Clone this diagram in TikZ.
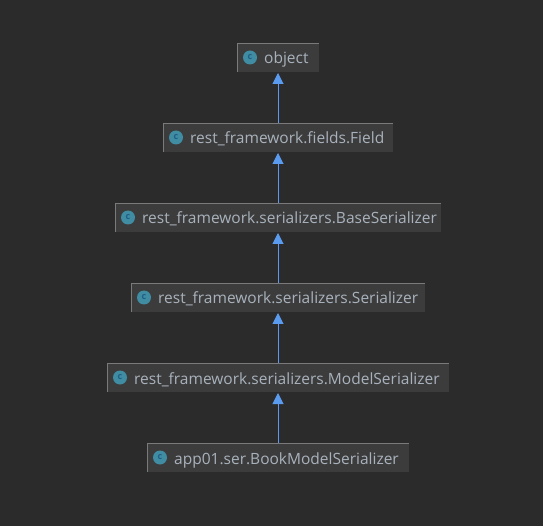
\documentclass[tikz,border=0pt]{standalone}
\usepackage{fontspec}
\setmainfont{Open Sans}
\usetikzlibrary{arrows.meta}
\definecolor{bg}{HTML}{2B2B2B}
\definecolor{boxfill}{HTML}{3C3C3C}
\definecolor{boxline}{HTML}{7A7A7A}
\definecolor{txt}{HTML}{A9B2BC}
\definecolor{edgeblue}{HTML}{5A9BF0}
\definecolor{iconfill}{HTML}{3F8CA3}
\definecolor{iconc}{HTML}{1F5F85}
\tikzset{
  x=1pt,y=-1pt,
  classbox/.style={fill=boxfill,minimum height=29pt,inner sep=0pt,outer sep=0pt,anchor=north west},
  classlabel/.style={text=txt,font=\fontsize{15.5pt}{18pt}\selectfont,inner sep=0pt,anchor=base west},
  classicon/.style={circle,fill=iconfill,minimum size=14pt,inner sep=0pt,text=iconc,font=\fontsize{9pt}{9pt}\bfseries\selectfont},
  topleft/.style={draw=boxline,line width=0.8pt},
  inherit/.style={draw=edgeblue,line width=1pt,-{Triangle[length=11pt,width=11pt,fill=edgeblue]},shorten >=1pt}
}
\newcommand{\classnode}[5]{%
  \node[classbox,minimum width=#4 pt] (#1) at (#2,#3) {};
  \draw[topleft] (#1.south west) -- (#1.north west) -- (#1.north east);
  \node[classicon] (#1i) at ([xshift=13pt]#1.west) {c};
  \node[classlabel] (#1t) at ([xshift=27pt,yshift=-6.5pt]#1.west) {#5};
}
\begin{document}
\begin{tikzpicture}
\useasboundingbox (0,0) rectangle (543,526);
\fill[bg] (0,0) rectangle (543,526);
\classnode{a}{237}{43}{82}{object}
\classnode{b}{163}{123}{230}{rest\_framework.fields.Field}
\classnode{c}{115}{203}{326}{rest\_framework.serializers.BaseSerializer}
\classnode{d}{131}{283}{294}{rest\_framework.serializers.Serializer}
\classnode{e}{107}{363}{342}{rest\_framework.serializers.ModelSerializer}
\classnode{f}{147}{443}{262}{app01.ser.BookModelSerializer}
\draw[inherit] (b.north) -- (a.south);
\draw[inherit] (c.north) -- (b.south);
\draw[inherit] (d.north) -- (c.south);
\draw[inherit] (e.north) -- (d.south);
\draw[inherit] (f.north) -- (e.south);
\end{tikzpicture}
\end{document}
